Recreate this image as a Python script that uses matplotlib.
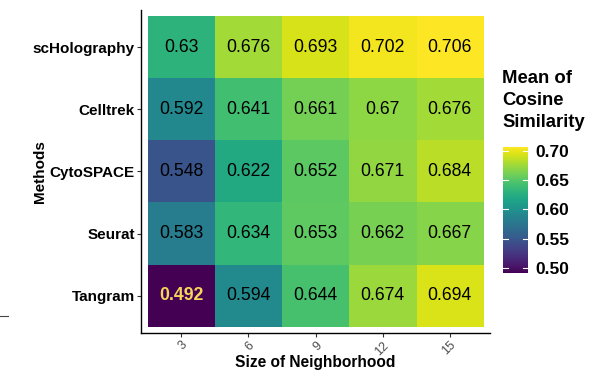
import numpy as np
import matplotlib
matplotlib.use("Agg")
import matplotlib.pyplot as plt
from matplotlib.lines import Line2D

plt.rcParams['font.family'] = ['Liberation Sans', 'DejaVu Sans']

# ---------- Data ----------
methods = ["scHolography", "Celltrek", "CytoSPACE", "Seurat", "Tangram"]
sizes = ["3", "6", "9", "12", "15"]
values = np.array([
    [0.630, 0.676, 0.693, 0.702, 0.706],
    [0.592, 0.641, 0.661, 0.670, 0.676],
    [0.548, 0.622, 0.652, 0.671, 0.684],
    [0.583, 0.634, 0.653, 0.662, 0.667],
    [0.492, 0.594, 0.644, 0.674, 0.694],
])
labels = [["0.63", "0.676", "0.693", "0.702", "0.706"],
          ["0.592", "0.641", "0.661", "0.67", "0.676"],
          ["0.548", "0.622", "0.652", "0.671", "0.684"],
          ["0.583", "0.634", "0.653", "0.662", "0.667"],
          ["0.492", "0.594", "0.644", "0.674", "0.694"]]
cbar_ticks = [0.50, 0.55, 0.60, 0.65, 0.70]

vmin, vmax = values.min(), values.max()

# ---------- Figure ----------
fig = plt.figure(figsize=(6.03, 3.78), dpi=100)
W, H = 603, 378
ax = fig.add_axes([141 / W, 1 - 333 / H, (490 - 141) / W, (333 - 10) / H])

im = ax.imshow(values, cmap="viridis", vmin=vmin, vmax=vmax,
               aspect="auto", extent=(-0.5, 4.5, 4.5, -0.5))
ax.set_xlim(-0.6, 4.6)
ax.set_ylim(4.6, -0.6)

for i in range(len(methods)):
    for j in range(len(sizes)):
        low = values[i, j] < 0.5
        ax.text(j, i, labels[i][j], ha="center", va="center",
                fontsize=12.7, color="#f5d65a" if low else "black",
                fontweight="bold" if low else "normal")

ax.set_xticks(range(len(sizes)))
ax.set_xticklabels(sizes, rotation=45, ha="right", rotation_mode="anchor",
                   fontsize=9, color="#4d4d4d")
ax.set_yticks(range(len(methods)))
ax.set_yticklabels(methods, fontsize=11, fontweight="bold")
ax.tick_params(axis="both", length=3, width=0.8, color="#333333", pad=1.5)

for s in ["top", "right"]:
    ax.spines[s].set_visible(False)
for s in ["left", "bottom"]:
    ax.spines[s].set_linewidth(1.0)
    ax.spines[s].set_color("black")

ax.set_xlabel("Size of Neighborhood", fontsize=11.2, fontweight="bold")
ax.xaxis.set_label_coords(0.5, -0.068)
ax.set_ylabel("Methods", fontsize=11, fontweight="bold")
ax.yaxis.set_label_coords(-0.27, 0.5)

# ---------- Colorbar ----------
cax = fig.add_axes([503 / W, 1 - 273 / H, 25 / W, 126 / H])
cb = fig.colorbar(im, cax=cax, ticks=cbar_ticks)
cb.outline.set_visible(False)
cb.ax.set_yticklabels([f"{t:.2f}" for t in cbar_ticks], fontsize=12.5, fontweight="bold")
cb.ax.tick_params(length=0, pad=5)
for t in cbar_ticks:
    cb.ax.plot([0, 0.2], [t, t], color="white", lw=0.8, transform=cb.ax.get_yaxis_transform())
    cb.ax.plot([0.8, 1.0], [t, t], color="white", lw=0.8, transform=cb.ax.get_yaxis_transform())

fig.text(502 / W, 1 - 70 / H, "Mean of\nCosine\nSimilarity", fontsize=13.3,
         fontweight="bold", ha="left", va="top", linespacing=1.4)

# stray short line at the left edge
fig.add_artist(Line2D([0, 8 / W], [1 - 316 / H, 1 - 316 / H], color="#444444", lw=0.8))

fig.savefig("out.png", dpi=100)
